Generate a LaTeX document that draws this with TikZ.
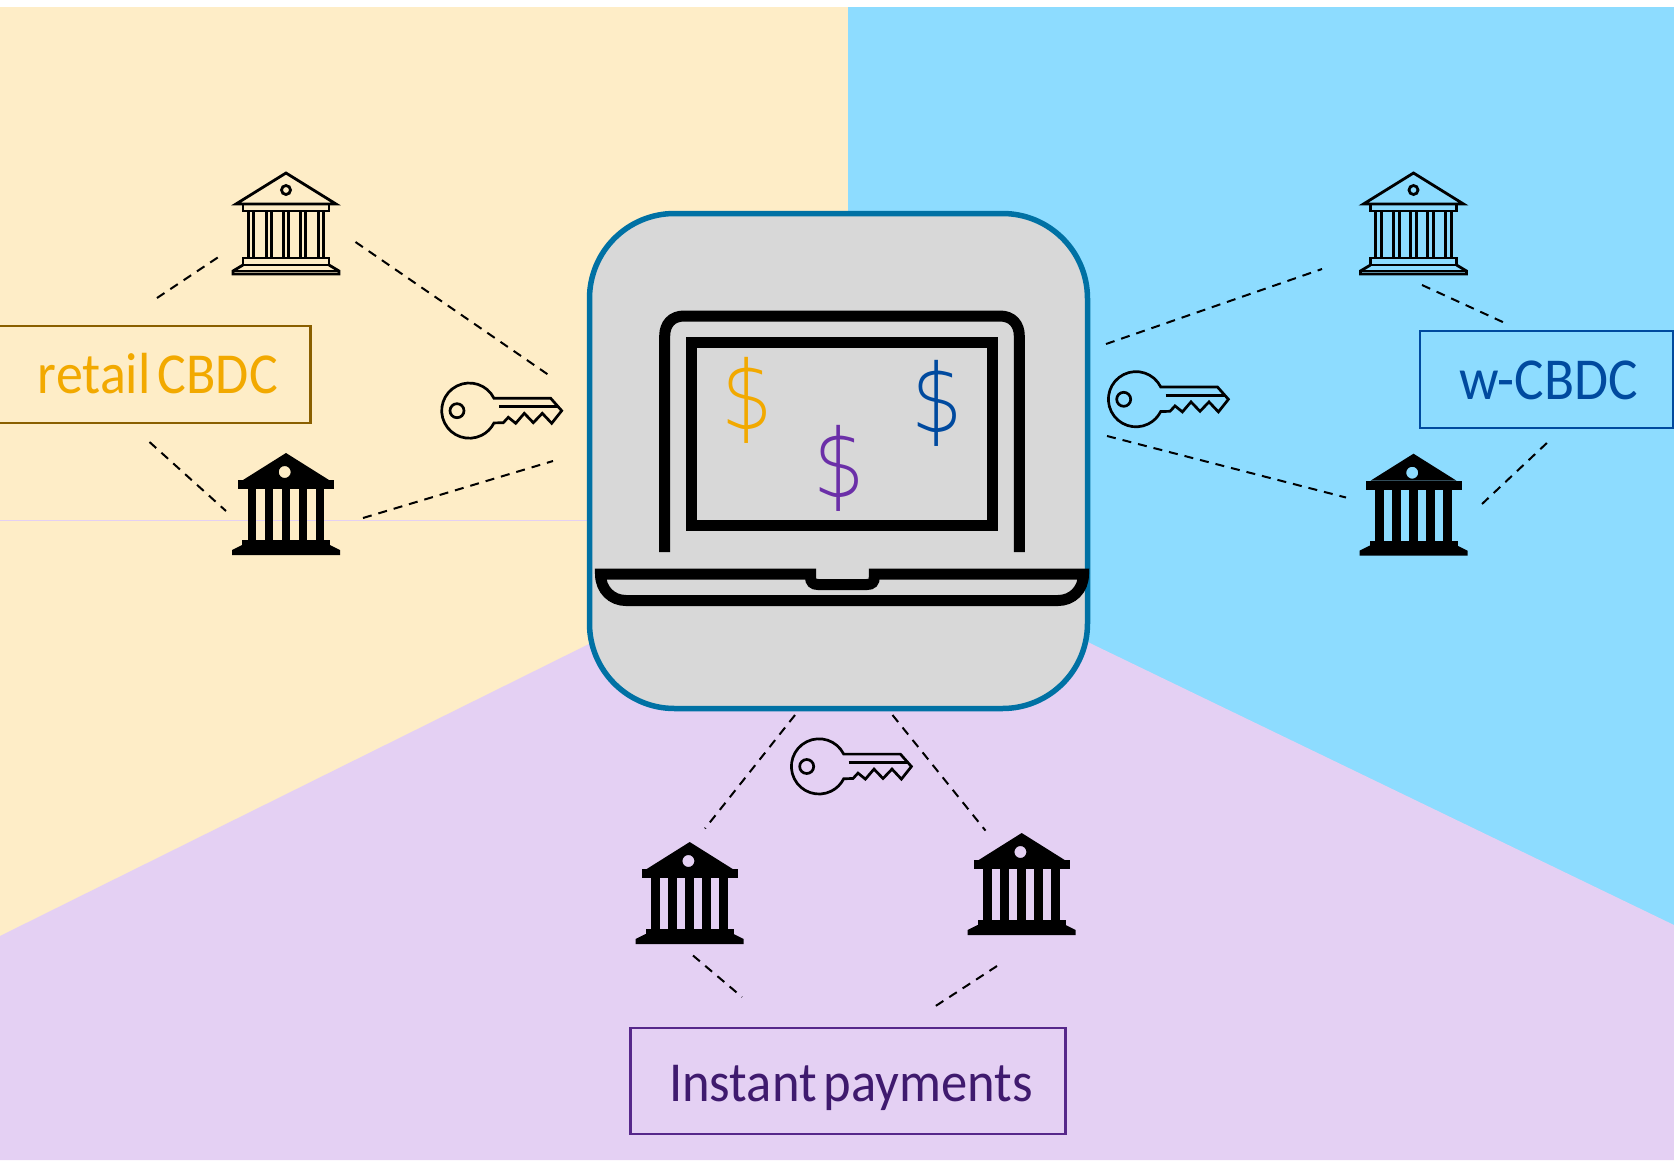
\documentclass[tikz,border=0pt]{standalone}
\usepackage{fontspec}
\setmainfont{Carlito}[FakeStretch=0.93, WordSpace=0.6]
\newfontfamily\dollarfont{DejaVu Sans ExtraLight}[FakeStretch=0.85]
\definecolor{bgyellow}{HTML}{FEEDC7}
\definecolor{bgblue}{HTML}{8DDCFF}
\definecolor{bgpurple}{HTML}{E4D0F3}
\definecolor{tileblue}{HTML}{0071A4}
\definecolor{tilegrey}{HTML}{D8D8D8}
\definecolor{retailorange}{HTML}{F2A900}
\definecolor{retailbrown}{HTML}{8A5F00}
\definecolor{wblue}{HTML}{004A9F}
\definecolor{instantpurple}{HTML}{3F1A6E}
\definecolor{instantline}{HTML}{56278A}
\definecolor{dollarpurple}{HTML}{6B2FA8}
\tikzset{
  labelbox/.style={draw, line width=2.5pt, inner sep=0pt, rectangle},
  labeltext/.style={anchor=base, inner sep=0pt},
  dollar/.style={font=\dollarfont\fontsize{95}{100}\selectfont, inner sep=0pt},
  link/.style={black, line width=2pt, dash pattern=on 9pt off 7pt},
  laptopline/.style={black, line width=11pt, miter limit=10},
  bankoutline/.pic={
    \begin{scope}[line width=2.8pt, line join=miter]
    \draw (-50,31) -- (0,0) -- (50,31) -- cycle;
    \draw (0,17) circle (4.5);
    \draw (-43,31) rectangle (43,38);
    \foreach \cx in {-35,-17,0,17,35} {
      \draw (\cx-2.8,38) rectangle (\cx+2.8,85);
    }
    \draw (-43,85) rectangle (43,92);
    \draw (-43,92) -- (-53,98) -- (-53,101) -- (53,101) -- (53,98) -- (43,92);
    \draw (-53,98) -- (53,98);
    \end{scope}
  },
  bankfilled/.pic={
    \fill[even odd rule] (-43,27) -- (0,0) -- (43,27) -- cycle (-1.3,19) circle (6);
    \fill (-48,27) rectangle (48,36);
    \foreach \cx in {-34,-17,0,17,34} {
      \fill (\cx-4.3,36) rectangle (\cx+4.3,87);
    }
    \fill (-44,87) rectangle (44,92);
    \fill (-44,92) -- (-54,97) -- (-54,102) -- (54,102) -- (54,97) -- (44,92) -- cycle;
  },
  keyicon/.pic={
    \begin{scope}[line width=2.7pt, line join=miter]
    \draw (24.7,-12.4) arc[start angle=-26.5, end angle=-333.5, radius=27.6]
      -- (34,12) -- (39,6.6) -- (46.4,12.6) -- (55,2.6) -- (64,12) -- (73,2.6) -- (82.4,12.6)
      -- (92.4,0) -- (81.4,-12.4) -- cycle;
    \draw (29.7,-4) -- (88.7,-4);
    \draw (-12.3,0) circle (7);
    \end{scope}
  }
}
\begin{document}
\begin{tikzpicture}[x=1pt,y=-1pt]
\useasboundingbox (0,0) rectangle (1674,1160);

\fill[bgyellow] (0,7) rectangle (848,1160);
\fill[bgblue] (848,7) rectangle (1674,1160);
\fill[bgpurple] (0,936) -- (837,521) -- (1674,925) -- (1674,1160) -- (0,1160) -- cycle;
\draw[bgpurple, line width=0.8pt] (0,520.5) -- (590,520.5);

\node[draw=tileblue, fill=tilegrey, line width=5.5pt, rounded corners=85pt, rectangle, minimum width=498pt, minimum height=495pt] (tile) at (838.5,461) {};

\draw[laptopline] (664.7,552) -- (664.7,336) .. controls (664.7,324) and (672,316) .. (684,316) -- (1000,316) .. controls (1012,316) and (1019.3,324) .. (1019.3,336) -- (1019.3,552);
\draw[laptopline] (691.7,342.7) rectangle (992.7,525.7);
\draw[laptopline] (600.5,574) -- (810.5,574) -- (810.5,577) .. controls (810.5,582) and (813,584.5) .. (818,584.5) -- (867,584.5) .. controls (872,584.5) and (874.3,582) .. (874.3,577) -- (874.3,574) -- (1083.5,574) .. controls (1083.5,590) and (1072,600.5) .. (1058,600.5) -- (626,600.5) .. controls (612,600.5) and (600.5,590) .. (600.5,574) -- cycle;

\node[dollar, retailorange] (dollarorange) at (747.3,400) {\$};
\node[dollar, dollarpurple] (dollarviolet) at (839,468) {\$};
\node[dollar, wblue] (dollarblue) at (937.5,403.5) {\$};

\node[labelbox, draw=retailbrown, minimum width=331pt, minimum height=97pt] (retailbox) at (145,374.5) {};
\node[labeltext, retailorange, font=\fontsize{58}{64}\selectfont] (retail) at (158,393) {retail CBDC};
\node[labelbox, draw=wblue, minimum width=253pt, minimum height=97pt] (wbox) at (1546.5,379.5) {};
\node[labeltext, wblue, font=\fontsize{59.5}{64}\selectfont] (wcbdc) at (1548.7,399) {w-CBDC};
\node[labelbox, draw=instantline, minimum width=435pt, minimum height=106pt] (instantbox) at (848,1081) {};
\node[labeltext, instantpurple, font=\fontsize{56.5}{64}\selectfont] (instant) at (851,1101) {Instant payments};

\pic at (286,173) {bankoutline};
\pic at (286,453) {bankfilled};
\pic at (1413.5,173) {bankoutline};
\pic at (1413.5,453.7) {bankfilled};
\pic at (689.7,842) {bankfilled};
\pic at (1021.7,833) {bankfilled};

\pic at (469.3,410.7) {keyicon};
\pic at (1136,399.3) {keyicon};
\pic at (819,766.5) {keyicon};

\coordinate (la1) at (157,298);
\coordinate (la2) at (223,254);
\coordinate (lb1) at (355.5,242);
\coordinate (lb2) at (553,378);
\coordinate (lc1) at (149.5,442);
\coordinate (lc2) at (226,511);
\coordinate (ld1) at (363,518);
\coordinate (ld2) at (553,461);
\coordinate (ra1) at (1106,344);
\coordinate (ra2) at (1322,269);
\coordinate (rb1) at (1422,285);
\coordinate (rb2) at (1506,323.5);
\coordinate (rc1) at (1107,436);
\coordinate (rc2) at (1346,497.5);
\coordinate (rd1) at (1482,504);
\coordinate (rd2) at (1549,441);
\coordinate (ba1) at (795,715);
\coordinate (ba2) at (705,828.5);
\coordinate (bb1) at (892.5,715);
\coordinate (bb2) at (985.5,830.6);
\coordinate (bc1) at (693,955.5);
\coordinate (bc2) at (742,997);
\coordinate (bd1) at (997,966);
\coordinate (bd2) at (931,1009);

\draw[link] (la1) -- (la2);
\draw[link] (lb1) -- (lb2);
\draw[link] (lc1) -- (lc2);
\draw[link] (ld1) -- (ld2);
\draw[link] (ra1) -- (ra2);
\draw[link] (rb1) -- (rb2);
\draw[link] (rc1) -- (rc2);
\draw[link] (rd1) -- (rd2);
\draw[link] (ba1) -- (ba2);
\draw[link] (bb1) -- (bb2);
\draw[link] (bc1) -- (bc2);
\draw[link] (bd1) -- (bd2);
\end{tikzpicture}
\end{document}
